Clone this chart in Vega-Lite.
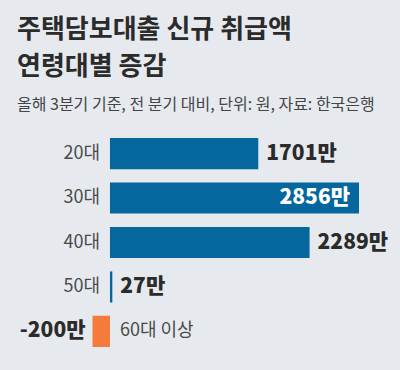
{
  "$schema": "https://vega.github.io/schema/vega-lite/v6.json",
  "autosize": "none",
  "width": 400,
  "height": 225,
  "padding": {"left": 0, "top": 130, "right": 0, "bottom": 15},
  "background": "#e6eaee",
  "title": {
    "text": ["주택담보대출 신규 취급액", "연령대별 증감"],
    "subtitle": "올해 3분기 기준, 전 분기 대비, 단위: 원, 자료: 한국은행",
    "anchor": "start",
    "frame": "group",
    "dx": 17,
    "offset": 17,
    "font": "Noto Sans CJK KR",
    "fontSize": 26,
    "fontWeight": "bold",
    "color": "#2b2b2b",
    "lineHeight": 37,
    "subtitleFont": "Noto Sans CJK KR",
    "subtitleFontSize": 16,
    "subtitleColor": "#444444",
    "subtitlePadding": 17
  },
  "config": {"view": {"stroke": null}},
  "data": {
    "values": [
      {"age": "20대", "value": 1701, "label": "1701만"},
      {"age": "30대", "value": 2856, "label": "2856만"},
      {"age": "40대", "value": 2289, "label": "2289만"},
      {"age": "50대", "value": 27, "label": "27만"},
      {"age": "60대 이상", "value": -200, "label": "-200만"}
    ]
  },
  "encoding": {
    "y": {
      "field": "age",
      "type": "nominal",
      "sort": null,
      "axis": null,
      "scale": {"paddingInner": 0.3, "paddingOuter": 0.18}
    }
  },
  "layer": [
    {
      "mark": {"type": "bar"},
      "encoding": {
        "x": {
          "field": "value",
          "type": "quantitative",
          "axis": null,
          "scale": {"domain": [-1261, 3326], "nice": false, "zero": false}
        },
        "color": {
          "condition": {"test": "datum.value < 0", "value": "#f47b3a"},
          "value": "#05679d"
        }
      }
    },
    {
      "mark": {"type": "rule", "color": "#6b6b6b", "strokeWidth": 1},
      "encoding": {"x": {"datum": 0, "type": "quantitative"}}
    },
    {
      "transform": [{"filter": "datum.value >= 0"}],
      "mark": {"type": "text", "align": "right", "baseline": "middle", "dx": -10, "font": "Noto Sans CJK KR", "fontSize": 18, "color": "#4a4a4a"},
      "encoding": {
        "x": {"datum": 0, "type": "quantitative"},
        "text": {"field": "age"}
      }
    },
    {
      "transform": [{"filter": "datum.value < 0"}],
      "mark": {"type": "text", "align": "left", "baseline": "middle", "dx": 10, "font": "Noto Sans CJK KR", "fontSize": 18, "color": "#4a4a4a"},
      "encoding": {
        "x": {"datum": 0, "type": "quantitative"},
        "text": {"field": "age"}
      }
    },
    {
      "transform": [{"filter": "datum.value >= 0 && datum.value < 2500"}],
      "mark": {"type": "text", "align": "left", "baseline": "middle", "dx": 8, "font": "Noto Sans CJK KR", "fontSize": 21, "fontWeight": 900, "color": "#2b2b2b"},
      "encoding": {
        "x": {"field": "value", "type": "quantitative"},
        "text": {"field": "label"}
      }
    },
    {
      "transform": [{"filter": "datum.value >= 2500"}],
      "mark": {"type": "text", "align": "right", "baseline": "middle", "dx": -9, "font": "Noto Sans CJK KR", "fontSize": 21, "fontWeight": 900, "color": "#ffffff"},
      "encoding": {
        "x": {"field": "value", "type": "quantitative"},
        "text": {"field": "label"}
      }
    },
    {
      "transform": [{"filter": "datum.value < 0"}],
      "mark": {"type": "text", "align": "right", "baseline": "middle", "dx": -7, "font": "Noto Sans CJK KR", "fontSize": 21, "fontWeight": 900, "color": "#2b2b2b"},
      "encoding": {
        "x": {"field": "value", "type": "quantitative"},
        "text": {"field": "label"}
      }
    }
  ]
}
